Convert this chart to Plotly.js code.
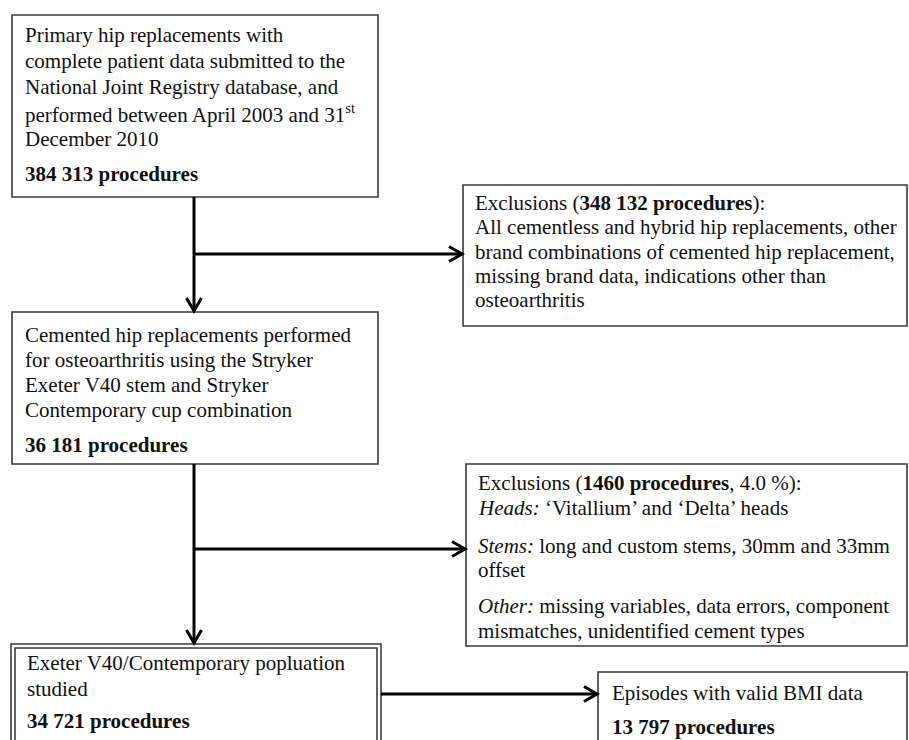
<!DOCTYPE html>
<html>
<head>
<meta charset="utf-8">
<script src="https://cdn.plot.ly/plotly-3.0.1.min.js"></script>
<style>html,body{margin:0;padding:0;background:#fff;}#chart{width:909px;height:740px;}</style>
</head>
<body>
<div id="chart"></div>
<script>
// ---- content (text of each flowchart box) ----
const box1Lines = [
  'Primary hip replacements with',
  'complete patient data submitted to the',
  'National Joint Registry database, and',
  'performed between April 2003 and 31<sup>st</sup>',
  'December 2010'
];
const box1Count = '<b>384 313 procedures</b>';

const excl1Lines = [
  'Exclusions (<b>348 132 procedures</b>):',
  'All cementless and hybrid hip replacements, other',
  'brand combinations of cemented hip replacement,',
  'missing brand data, indications other than',
  'osteoarthritis'
];

const box2Lines = [
  'Cemented hip replacements performed',
  'for osteoarthritis using the Stryker',
  'Exeter V40 stem and Stryker',
  'Contemporary cup combination'
];
const box2Count = '<b>36 181 procedures</b>';

const excl2Lines = [
  'Exclusions (<b>1460 procedures</b>, 4.0 %):',
  '<i>Heads:</i> \u2018Vitallium\u2019 and \u2018Delta\u2019 heads',
  '<i>Stems:</i> long and custom stems, 30mm and 33mm',
  'offset',
  '<i>Other:</i> missing variables, data errors, component',
  'mismatches, unidentified cement types'
];

const box3Lines = ['Exeter V40/Contemporary popluation', 'studied'];
const box3Count = '<b>34 721 procedures</b>';

const box4Lines = ['Episodes with valid BMI data'];
const box4Count = '<b>13 797 procedures</b>';

// ---- layout geometry (pixels in a 909x740 frame, y downward) ----
const FONT = {family: 'Liberation Serif', size: 21, color: '#111'};
const boxLine = {color: '#3a3a3a', width: 1.6};
const arrowLine = {color: '#000', width: 3};

const shapes = [];
const annotations = [];

function rect(x0, y0, x1, y1, line) {
  shapes.push({type: 'rect', xref: 'x', yref: 'y', x0, y0, x1, y1, line: line || boxLine, fillcolor: 'rgba(0,0,0,0)', layer: 'above'});
}
function seg(x0, y0, x1, y1) {
  shapes.push({type: 'line', xref: 'x', yref: 'y', x0, y0, x1, y1, line: arrowLine, layer: 'above'});
}
function headDown(x, y) {
  shapes.push({type: 'path', xref: 'x', yref: 'y', path: `M ${x-7.5},${y-13} L ${x},${y} L ${x+7.5},${y-13}`, line: arrowLine, layer: 'above'});
}
function headRight(x, y) {
  shapes.push({type: 'path', xref: 'x', yref: 'y', path: `M ${x-13},${y-7.5} L ${x},${y} L ${x-13},${y+7.5}`, line: arrowLine, layer: 'above'});
}
function texts(lines, x, ys) {
  lines.forEach((t, i) => annotations.push({
    xref: 'x', yref: 'y', x: x, y: ys[i], text: t, showarrow: false,
    xanchor: 'left', yanchor: 'middle', align: 'left', font: FONT
  }));
}

// Box 1
rect(12, 15, 378, 197);
texts(box1Lines.concat([box1Count]), 23, [35, 61, 87, 113, 139, 174]);

// Exclusion box 1
rect(463, 185, 907, 326);
texts(excl1Lines, 473, [203, 227, 252, 276, 300]);

// Box 2
rect(12, 312, 378, 464);
texts(box2Lines.concat([box2Count]), 23, [335, 360, 385, 410, 445]);

// Exclusion box 2
rect(466, 464, 907, 646);
texts(excl2Lines, 476, [483, 508, 546, 570, 606, 631]);

// Box 3 (double border)
rect(11, 644, 381, 780);
rect(15, 648, 377, 780);
texts(box3Lines.concat([box3Count]), 25, [663, 689, 721]);

// Box 4
rect(598, 672, 907, 780);
texts(box4Lines.concat([box4Count]), 610, [693, 727]);

// Connectors
seg(194, 197, 194, 311); headDown(194, 311);
seg(194, 254, 461, 254); headRight(462, 254);
seg(194, 464, 194, 643); headDown(194, 643);
seg(194, 549, 464, 549); headRight(465, 549);
seg(381, 694, 596, 694); headRight(597, 694);

const layout = {
  width: 909, height: 740,
  margin: {l: 0, r: 0, t: 0, b: 0, pad: 0},
  paper_bgcolor: '#fff', plot_bgcolor: '#fff',
  xaxis: {range: [0, 909], visible: false, fixedrange: true},
  yaxis: {range: [740, 0], visible: false, fixedrange: true},
  shapes: shapes,
  annotations: annotations,
  showlegend: false
};

Plotly.newPlot('chart', [], layout, {staticPlot: true, displayModeBar: false});
</script>
</body>
</html>
